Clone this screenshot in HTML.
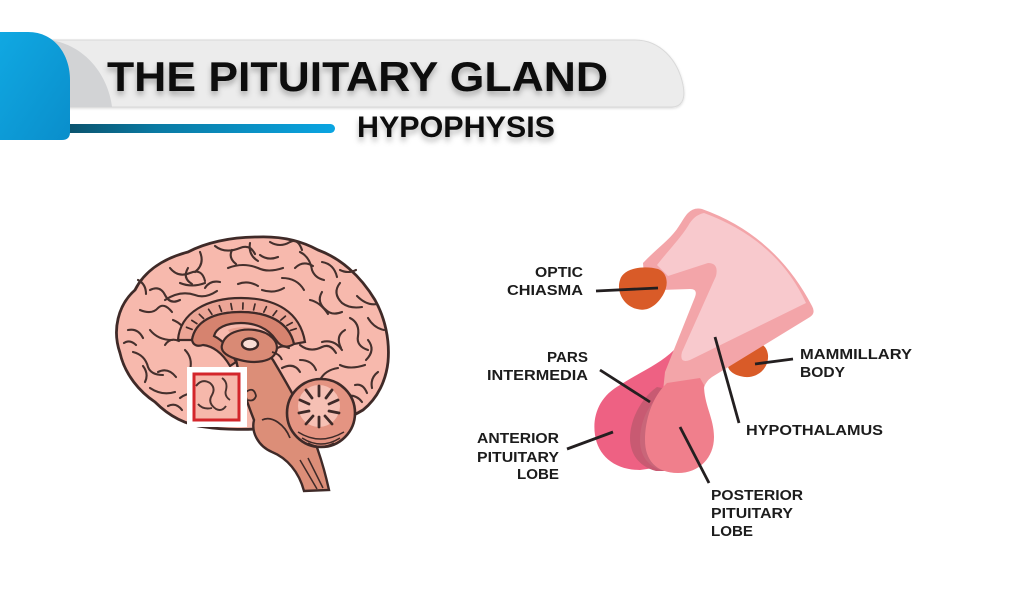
<!DOCTYPE html>
<html>
<head>
<meta charset="utf-8">
<style>
  html,body{margin:0;padding:0;background:#fff;}
  body{width:1024px;height:598px;overflow:hidden;}
  svg{display:block;}
  .lbl{font-family:"Liberation Sans",Arial,sans-serif;font-weight:bold;font-size:14.5px;fill:#1c1c1c;}
  .gy{fill:none;stroke:#45302d;stroke-width:2.1;stroke-linecap:round;stroke-linejoin:round;}
</style>
</head>
<body>
<svg width="1024" height="598" viewBox="0 0 1024 598" xmlns="http://www.w3.org/2000/svg">
  <defs>
    <linearGradient id="blue" x1="0" y1="0" x2="1" y2="1">
      <stop offset="0" stop-color="#10a8e2"/>
      <stop offset="1" stop-color="#0a8ecb"/>
    </linearGradient>
    <linearGradient id="bar" x1="0" y1="0" x2="1" y2="0">
      <stop offset="0" stop-color="#0b4f68"/>
      <stop offset="0.35" stop-color="#0a7aa3"/>
      <stop offset="1" stop-color="#0aa5e2"/>
    </linearGradient>
    <filter id="ts" x="-10%" y="-30%" width="120%" height="180%">
      <feDropShadow dx="0" dy="4" stdDeviation="3" flood-color="#000" flood-opacity="0.28"/>
    </filter>
    <filter id="bs" x="-5%" y="-20%" width="110%" height="160%">
      <feDropShadow dx="0" dy="1" stdDeviation="1.2" flood-color="#000" flood-opacity="0.15"/>
    </filter>
  </defs>

  <!-- HEADER -->
  <path d="M40,40 L635,40 C660,40 678,60 683,85 C686,100 681,107 672,107 L40,107 Z" fill="#ececec" stroke="#d9d9d9" stroke-width="1" filter="url(#bs)"/>
  <path d="M40,40 L50,40 C85,45 108,75 112,107 L40,107 Z" fill="#d2d3d5"/>
  <rect x="60" y="124" width="275" height="9" rx="4.5" fill="url(#bar)"/>
  <path d="M0,32 L28,32 C55,32 70,55 70,80 L70,132 Q70,140 62,140 L0,140 Z" fill="url(#blue)"/>

  <text x="107" y="91" font-family="Liberation Sans, Arial, sans-serif" font-weight="bold" font-size="42" fill="#0d0d0d" textLength="501" lengthAdjust="spacingAndGlyphs" filter="url(#ts)">THE PITUITARY GLAND</text>
  <text x="357" y="137" font-family="Liberation Sans, Arial, sans-serif" font-weight="bold" font-size="30" fill="#0d0d0d" textLength="198" lengthAdjust="spacingAndGlyphs" filter="url(#ts)">HYPOPHYSIS</text>

  <!-- BRAIN -->
  <g>
    <path d="M120,353 C112,330 118,305 135,290 C145,270 165,258 188,252 C205,243 230,237 257,237 C280,236 300,240 318,250 C340,258 360,275 375,300 C385,318 390,340 388,362 C386,380 378,398 363,410 C350,418 330,425 310,428 L270,428 C250,430 225,430 205,427 C185,425 168,415 155,402 C140,392 125,375 120,353 Z" fill="#f7b9ad" stroke="#3f2a28" stroke-width="2.8"/>
    <!-- gyri -->
    <path class="gy" d="M150,290 q10,-5 15,5 q5,10 15,5"/>
    <path class="gy" d="M170,268 q8,10 20,5 t15,8"/>
    <path class="gy" d="M200,252 q5,12 -5,20"/>
    <path class="gy" d="M215,246 q10,8 25,2 q10,-4 15,6"/>
    <path class="gy" d="M250,243 q-2,12 8,18"/>
    <path class="gy" d="M270,242 q10,6 20,0 q8,-4 12,8"/>
    <path class="gy" d="M300,252 q10,5 12,18 q3,8 12,10"/>
    <path class="gy" d="M322,262 q12,2 15,15"/>
    <path class="gy" d="M340,283 q-8,10 2,20 q8,6 20,4"/>
    <path class="gy" d="M357,296 q10,10 20,8"/>
    <path class="gy" d="M350,318 q10,5 8,18 q-2,10 10,14"/>
    <path class="gy" d="M322,342 q12,-3 20,8"/>
    <path class="gy" d="M368,340 q8,10 -2,20"/>
    <path class="gy" d="M340,365 q10,5 25,0"/>
    <path class="gy" d="M320,380 q5,-10 18,-12"/>
    <path class="gy" d="M355,385 q8,-2 12,8"/>
    <path class="gy" d="M140,310 q12,5 18,-2 q6,-6 14,4"/>
    <path class="gy" d="M128,330 q10,-2 15,8"/>
    <path class="gy" d="M133,352 q12,3 15,15 q3,8 15,8"/>
    <path class="gy" d="M150,330 q8,10 22,10"/>
    <path class="gy" d="M158,372 q10,-5 18,5"/>
    <path class="gy" d="M150,388 q12,8 25,4"/>
    <path class="gy" d="M180,398 q10,-8 25,-2"/>
    <path class="gy" d="M185,350 q8,8 5,20"/>
    <path class="gy" d="M165,300 q15,-10 30,-5 q10,4 22,-4"/>
    <path class="gy" d="M180,283 q12,5 25,0"/>
    <path class="gy" d="M228,268 q15,-6 30,0 q10,5 25,0"/>
    <path class="gy" d="M282,278 q15,0 22,12"/>
    <path class="gy" d="M205,288 q5,-8 15,-6"/>
    <path class="gy" d="M310,300 q10,2 18,14"/>
    <path class="gy" d="M300,360 q12,0 16,10"/>
    <path class="gy" d="M200,410 q15,4 30,-2"/>
    <path class="gy" d="M165,345 q5,-8 14,-4"/>
    <path class="gy" d="M300,345 q10,8 22,2 q8,-4 14,6"/>
    <path class="gy" d="M282,368 q12,-6 18,4"/>
    <path class="gy" d="M330,395 q10,-4 18,4"/>
    <path class="gy" d="M345,330 q-10,6 -4,18"/>
    <path class="gy" d="M368,318 q6,10 16,12"/>
    <path class="gy" d="M378,372 q-8,6 -6,16"/>
    <path class="gy" d="M362,402 q-6,-8 -16,-6"/>
    <path class="gy" d="M322,292 q-6,10 4,18 q6,6 16,2"/>
    <path class="gy" d="M295,268 q8,-8 18,-2"/>
    <path class="gy" d="M260,255 q8,6 18,2"/>
    <path class="gy" d="M238,284 q10,-4 20,2"/>
    <path class="gy" d="M262,290 q12,4 22,-2"/>
    <path class="gy" d="M188,268 q-6,10 4,16"/>
    <path class="gy" d="M173,320 q10,4 14,14"/>
    <path class="gy" d="M143,366 q6,8 2,16"/>
    <path class="gy" d="M124,343 q6,-4 12,2"/>
    <path class="gy" d="M168,406 q8,-4 14,4"/>
    <path class="gy" d="M138,280 q8,4 8,14"/>
    <path class="gy" d="M232,250 q-4,8 4,14"/>
    <path class="gy" d="M340,270 q8,4 16,0"/>
    <path class="gy" d="M275,350 q6,-6 14,-2"/>
    <path class="gy" d="M262,372 q8,4 14,0"/>

    <!-- cingulate band -->
    <path d="M178,340 C180,312 208,298 241,298 C276,298 300,312 305,342 L294,344 C289,322 268,312 241,312 C214,312 195,322 192,340 Z" fill="#eca596" stroke="#3f2a28" stroke-width="2.2"/>
    <g stroke="#3f2a28" stroke-width="1.7" stroke-linecap="round">
      <line x1="186.5" y1="327.3" x2="192.1" y2="329.4"/>
      <line x1="191.8" y1="320.4" x2="196.9" y2="323.6"/>
      <line x1="199.3" y1="314.3" x2="203.6" y2="318.5"/>
      <line x1="208.6" y1="309.3" x2="211.9" y2="314.3"/>
      <line x1="219.3" y1="305.7" x2="221.5" y2="311.3"/>
      <line x1="230.9" y1="303.6" x2="232.0" y2="309.5"/>
      <line x1="243.0" y1="303.0" x2="242.8" y2="309.0"/>
      <line x1="255.0" y1="304.1" x2="253.6" y2="309.9"/>
      <line x1="266.4" y1="306.7" x2="263.8" y2="312.1"/>
      <line x1="276.7" y1="310.8" x2="273.0" y2="315.6"/>
      <line x1="285.4" y1="316.2" x2="280.8" y2="320.1"/>
      <line x1="292.2" y1="322.6" x2="286.9" y2="325.5"/>
      <line x1="296.2" y1="328.6" x2="290.5" y2="330.4"/>
    </g>
    <!-- corpus callosum + fornix -->
    <path d="M192,340 C195,321 214,312 241,312 C268,312 289,322 294,344 C286,349 280,346 276,340 C268,328 255,323 241,323 C226,323 216,328 214,336 C222,340 230,348 236,362 L230,366 C222,352 212,346 203,345 C197,347 193,345 192,340 Z" fill="#d6836f" stroke="#3f2a28" stroke-width="2.2"/>
    <!-- ventricle tone -->
    <path d="M228,330 C240,325 262,326 272,338 C262,334 245,332 232,336 Z" fill="#e9a090"/>
    <!-- brainstem -->
    <path d="M234,350 C245,346 265,348 273,360 C282,375 292,392 302,412 C312,432 322,458 329,490 L304,491 C299,472 287,458 272,452 C258,446 251,432 254,420 C248,405 241,386 234,350 Z" fill="#dc8e78" stroke="#3f2a28" stroke-width="2.4"/>
    <path d="M246,392 q8,-6 10,4 q-2,6 -8,4" fill="none" stroke="#3f2a28" stroke-width="1.8"/>
    <path d="M262,420 C272,415 285,425 290,438" fill="none" stroke="#3f2a28" stroke-width="1.7"/>
    <path d="M300,460 L317,489 M308,458 L323,488" fill="none" stroke="#3f2a28" stroke-width="1.5"/>
    <!-- thalamus -->
    <path d="M222,345 C225,333 240,328 255,330 C270,332 280,342 276,352 C272,362 255,364 240,360 C228,357 220,352 222,345 Z" fill="#d98a75" stroke="#3f2a28" stroke-width="2.2"/>
    <ellipse cx="250" cy="344" rx="8" ry="5.5" fill="#f9dcd4" stroke="#3f2a28" stroke-width="2.4"/>
    <path d="M272,352 q8,2 10,8" fill="none" stroke="#3f2a28" stroke-width="1.9"/>
    <!-- cerebellum -->
    <circle cx="321" cy="413" r="34" fill="#e49482" stroke="#3f2a28" stroke-width="2.6"/>
    <circle cx="319" cy="406" r="21" fill="#f6c0b4"/>
    <g stroke="#3f2a28" stroke-width="2.8" stroke-linecap="round">
      <line x1="319" y1="396" x2="319" y2="386"/>
      <line x1="326" y1="398" x2="332" y2="390"/>
      <line x1="329" y1="404" x2="338" y2="400"/>
      <line x1="329" y1="411" x2="339" y2="413"/>
      <line x1="325" y1="416" x2="332" y2="424"/>
      <line x1="319" y1="417" x2="319" y2="427"/>
      <line x1="313" y1="416" x2="306" y2="424"/>
      <line x1="309" y1="411" x2="299" y2="413"/>
      <line x1="309" y1="404" x2="300" y2="400"/>
      <line x1="312" y1="398" x2="306" y2="390"/>
    </g>
    <path d="M298,432 q22,14 46,0 M302,438 q19,12 38,0 M308,443 q13,7 26,0" fill="none" stroke="#3f2a28" stroke-width="1.5"/>
    <!-- red box -->
    <rect x="187" y="367" width="60" height="60" fill="#fff"/>
    <rect x="194" y="374" width="45" height="46" fill="#f6b8ab"/>
    <path d="M196,386 q6,-8 14,-3 q6,5 2,12 q-5,8 4,14 q6,3 10,-3 M222,378 q6,4 4,12 q-2,6 4,10 M198,404 q5,6 14,4" fill="none" stroke="#4a3330" stroke-width="1.9"/>
    <rect x="194" y="374" width="45" height="46" fill="none" stroke="#d3262b" stroke-width="3"/>
  </g>

  <!-- PITUITARY DIAGRAM -->
  <path d="M738,350 C750,341 766,339 768,355 C769,368 758,378 745,377 C734,376 726,370 728,362 Z" fill="#d95b28"/>
  <path d="M674,350 C660,364 640,372 620,385 C600,396 592,415 595,435 C598,456 615,470 640,470 L668,466 L682,380 Z" fill="#ee6183"/>
  <path d="M688,213 Q694,207 702,209 Q775,235 812,306 Q816,313 810,317 L712,377 Q703,383 703,395 L703,420 L660,420 L665,372 L695,297 Q698,289 690,289 L660,290 L645,288 L643,263 C656,249 671,239 679,226 C683,220 685,216 688,213 Z" fill="#f3a5a9"/>
  <path d="M704,213 Q777,240 806,303 L690,360 Q679,364 682,352 L716,276 Q719,263 708,263 L668,276 L657,265 C667,252 679,240 688,226 Q694,215 704,213 Z" fill="#f8c9cd"/>
  <path d="M657,387 C641,398 630,420 630,438 C630,455 640,467 656,471 L668,471 L672,390 Z" fill="#c85a72"/>
  <path d="M660,395 C648,405 640,422 640,440 C640,455 647,465 660,470 L668,470 L672,395 Z" fill="#c96679"/>
  <path d="M667,383 C652,397 645,420 645,440 C645,460 656,473 678,473 C699,473 714,458 714,437 C714,418 704,405 704,385 L700,378 Z" fill="#f07f8c"/>
  <path d="M620,280 C623,268 644,265 658,269 C668,273 669,285 663,295 C657,305 648,312 637,309 C624,306 616,292 620,280 Z" fill="#d95b28"/>

  <!-- connectors -->
  <g stroke="#231f20" stroke-width="2.8" stroke-linecap="butt">
    <line x1="596" y1="291" x2="658" y2="288"/>
    <line x1="600" y1="370" x2="650" y2="402"/>
    <line x1="567" y1="449" x2="613" y2="432"/>
    <line x1="680" y1="427" x2="709" y2="483"/>
    <line x1="755" y1="364" x2="793" y2="359"/>
    <line x1="715" y1="337" x2="739" y2="423"/>
  </g>

  <!-- labels -->
  <text class="lbl" x="535" y="277" textLength="48" lengthAdjust="spacingAndGlyphs">OPTIC</text>
  <text class="lbl" x="507" y="295" textLength="76" lengthAdjust="spacingAndGlyphs">CHIASMA</text>
  <text class="lbl" x="547" y="362" textLength="41" lengthAdjust="spacingAndGlyphs">PARS</text>
  <text class="lbl" x="487" y="380" textLength="101" lengthAdjust="spacingAndGlyphs">INTERMEDIA</text>
  <text class="lbl" x="477" y="443" textLength="82" lengthAdjust="spacingAndGlyphs">ANTERIOR</text>
  <text class="lbl" x="477" y="462" textLength="82" lengthAdjust="spacingAndGlyphs">PITUITARY</text>
  <text class="lbl" x="517" y="479" textLength="42" lengthAdjust="spacingAndGlyphs">LOBE</text>
  <text class="lbl" x="711" y="500" textLength="92" lengthAdjust="spacingAndGlyphs">POSTERIOR</text>
  <text class="lbl" x="711" y="518" textLength="82" lengthAdjust="spacingAndGlyphs">PITUITARY</text>
  <text class="lbl" x="711" y="536" textLength="42" lengthAdjust="spacingAndGlyphs">LOBE</text>
  <text class="lbl" x="800" y="359" textLength="112" lengthAdjust="spacingAndGlyphs">MAMMILLARY</text>
  <text class="lbl" x="800" y="377" textLength="45" lengthAdjust="spacingAndGlyphs">BODY</text>
  <text class="lbl" x="746" y="435" textLength="137" lengthAdjust="spacingAndGlyphs">HYPOTHALAMUS</text>
</svg>
</body>
</html>
